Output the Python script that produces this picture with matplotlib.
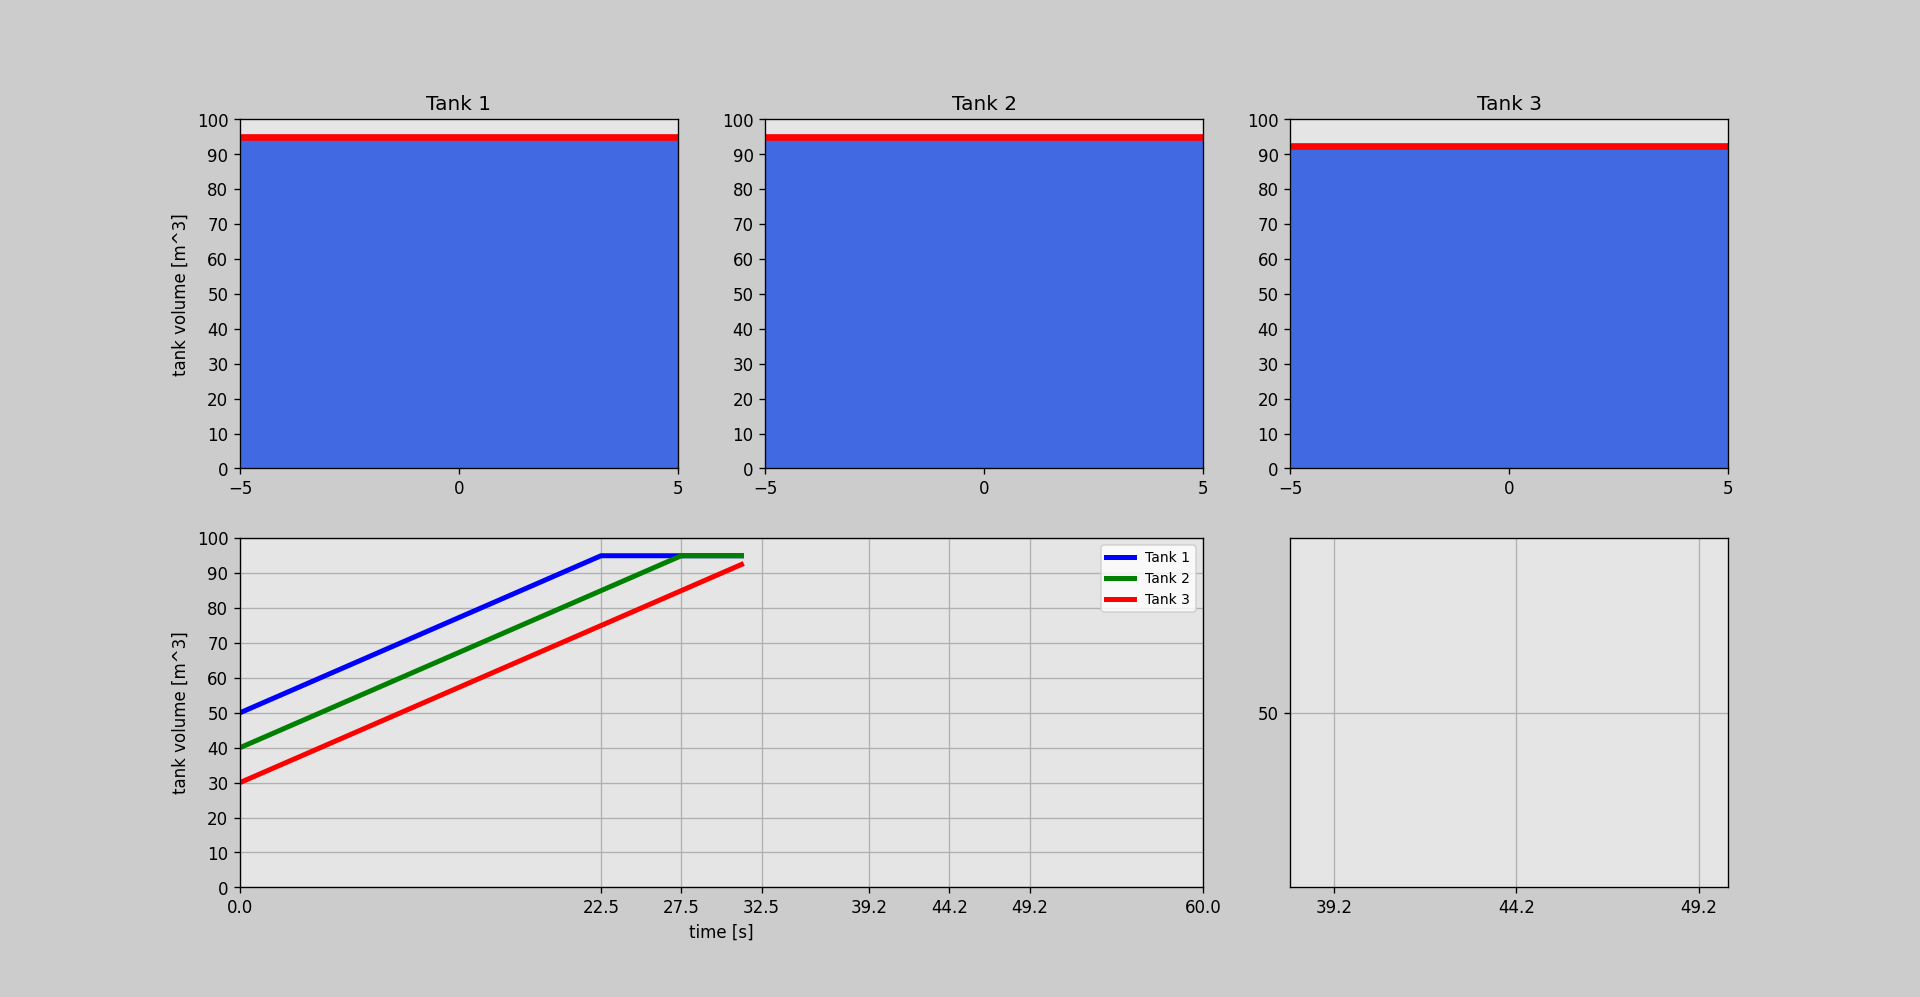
import numpy as np
import matplotlib
matplotlib.use('Agg')
import matplotlib.pyplot as plt

# tank levels shown in the top row
tank_names = ['Tank 1', 'Tank 2', 'Tank 3']
tank_levels = [95.0, 95.0, 92.5]
tank_colors = ['blue', 'green', 'red']

# volume history (time [s], volume [m^3])
t1 = [0.0, 22.5, 31.25]
v1 = [50.0, 95.0, 95.0]
t2 = [0.0, 27.5, 31.25]
v2 = [40.0, 95.0, 95.0]
t3 = [0.0, 31.25]
v3 = [30.0, 92.5]

time_ticks = [0.0, 22.5, 27.5, 32.5, 39.2, 44.2, 49.2, 60.0]
zoom_ticks = [39.2, 44.2, 49.2]

fig = plt.figure(figsize=(16, 8.31), dpi=120, facecolor='#cccccc')
gs = fig.add_gridspec(2, 3)

# top row: tank fill levels
x_tank = np.array([-5, 5])
for i, (name, level) in enumerate(zip(tank_names, tank_levels)):
    ax = fig.add_subplot(gs[0, i])
    ax.set_facecolor('#e5e5e5')
    ax.fill_between(x_tank, 0, level, color='royalblue')
    ax.plot(x_tank, [level, level], color='red', linewidth=4)
    ax.set_xlim(-5, 5)
    ax.set_ylim(0, 100)
    ax.set_xticks([-5, 0, 5])
    ax.set_yticks(np.arange(0, 101, 10))
    ax.set_title(name)
    if i == 0:
        ax.set_ylabel('tank volume [m^3]')

# bottom left: volume over time
ax = fig.add_subplot(gs[1, 0:2])
ax.set_facecolor('#e5e5e5')
ax.plot(t1, v1, color=tank_colors[0], linewidth=3, label=tank_names[0])
ax.plot(t2, v2, color=tank_colors[1], linewidth=3, label=tank_names[1])
ax.plot(t3, v3, color=tank_colors[2], linewidth=3, label=tank_names[2])
ax.set_xlim(0, 60)
ax.set_ylim(0, 100)
ax.set_xticks(time_ticks)
ax.set_xticklabels([f'{t:.1f}' for t in time_ticks])
ax.set_yticks(np.arange(0, 101, 10))
ax.grid(True)
ax.set_xlabel('time [s]')
ax.set_ylabel('tank volume [m^3]')
ax.legend(loc='upper right', fontsize='small')

# bottom right: zoomed time window
ax = fig.add_subplot(gs[1, 2])
ax.set_facecolor('#e5e5e5')
ax.set_xlim(38, 50)
ax.set_ylim(0, 100)
ax.set_xticks(zoom_ticks)
ax.set_xticklabels([f'{t:.1f}' for t in zoom_ticks])
ax.set_yticks([50])
ax.grid(True)

plt.savefig('out.png', facecolor=fig.get_facecolor())
